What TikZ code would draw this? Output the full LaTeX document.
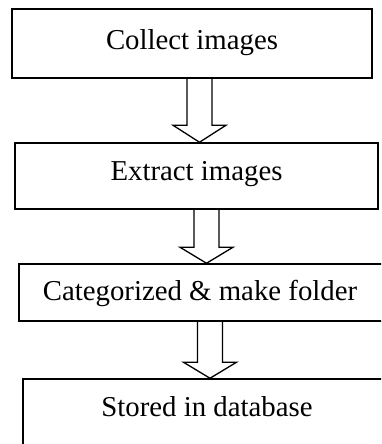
\documentclass[tikz,border=0pt]{standalone}
\usepackage{fontspec}
\setmainfont{Liberation Serif}
\usetikzlibrary{calc}
\begin{document}
\begin{tikzpicture}[x=1pt,y=-1pt,
  box/.style={draw,line width=1.5pt,rectangle,inner sep=0pt},
  lbl/.style={inner sep=0pt,anchor=base,font=\fontsize{28.8}{34}\selectfont},
  flow/.style={draw,line width=1.3pt,line join=miter}]
\useasboundingbox (0,0) rectangle (381,444);
\clip (0,0) rectangle (381,444);
\node[box,minimum width=360pt,minimum height=69pt] (b1) at (192,43.5) {};
\node[box,minimum width=363pt,minimum height=66pt] (b2) at (196.5,176) {};
\node[box,minimum width=368pt,minimum height=57pt] (b3) at (203,292.5) {};
\node[box,minimum width=368pt,minimum height=90pt] (b4) at (207,424) {};
\node[lbl] (t1) at (192,50) {Collect images};
\node[lbl] (t2) at (196.5,180) {Extract images};
\node[lbl] (t3) at (200,300) {Categorized \& make folder};
\node[lbl] (t4) at (207,416) {Stored in database};
% arrows: shaft half-width 12.5, head half-width 26.5, head height 17
\coordinate (p1) at (b1.south -| 199.5,0);
\coordinate (q1) at (b2.north -| 199.5,0);
\draw[flow] ($(p1)+(-12.5,0)$) -- ($(q1)+(-12.5,-17)$) -- ($(q1)+(-26.5,-17)$) -- (q1)
  -- ($(q1)+(26.5,-17)$) -- ($(q1)+(12.5,-17)$) -- ($(p1)+(12.5,0)$);
\coordinate (p2) at (b2.south -| 206.5,0);
\coordinate (q2) at (b3.north -| 206.5,0);
\draw[flow] ($(p2)+(-12.5,0)$) -- ($(q2)+(-12.5,-16)$) -- ($(q2)+(-26.5,-16)$) -- (q2)
  -- ($(q2)+(26.5,-16)$) -- ($(q2)+(12.5,-16)$) -- ($(p2)+(12.5,0)$);
\coordinate (p3) at (b3.south -| 210,0);
\coordinate (q3) at (b4.north -| 210,0);
\draw[flow] ($(p3)+(-12.5,0)$) -- ($(q3)+(-12.5,-16)$) -- ($(q3)+(-26.5,-16)$) -- (q3)
  -- ($(q3)+(26.5,-16)$) -- ($(q3)+(12.5,-16)$) -- ($(p3)+(12.5,0)$);
\end{tikzpicture}
\end{document}
